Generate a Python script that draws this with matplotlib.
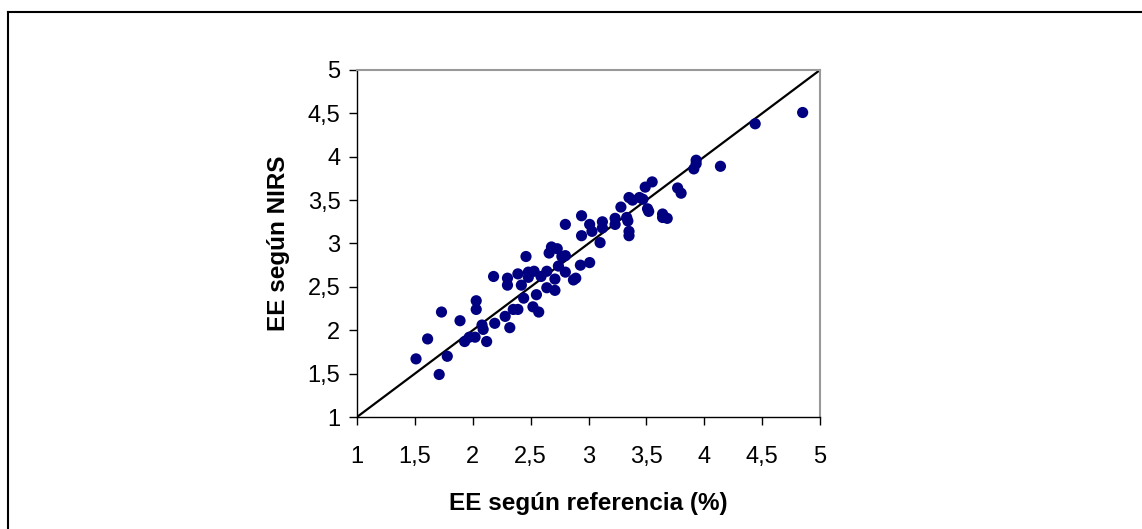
import matplotlib
matplotlib.use("Agg")
import matplotlib.pyplot as plt
from matplotlib.lines import Line2D

plt.rcParams['font.family'] = ['Liberation Sans', 'DejaVu Sans']

# EE segun referencia (%) vs EE segun NIRS
ref = [1.51, 1.61, 1.73, 1.71, 1.78, 1.89, 1.93, 1.97, 2.02, 2.03, 2.03, 2.08,
       2.09, 2.12, 2.18, 2.19, 2.28, 2.30, 2.30, 2.32, 2.35, 2.39, 2.39, 2.42,
       2.44, 2.46, 2.48, 2.48, 2.53, 2.52, 2.55, 2.57, 2.59, 2.64, 2.64, 2.66,
       2.68, 2.71, 2.71, 2.73, 2.74, 2.77, 2.80, 2.80, 2.80, 2.87, 2.89, 2.93,
       2.94, 2.94, 3.01, 3.01, 3.03, 3.10, 3.12, 3.12, 3.23, 3.23, 3.28, 3.33,
       3.34, 3.35, 3.35, 3.35, 3.38, 3.44, 3.47, 3.49, 3.55, 3.51, 3.52, 3.64,
       3.64, 3.68, 3.77, 3.80, 3.91, 3.93, 3.93, 4.14, 4.44, 4.85]
nirs = [1.67, 1.90, 2.21, 1.49, 1.70, 2.11, 1.87, 1.92, 1.92, 2.34, 2.24, 2.06,
        2.01, 1.87, 2.62, 2.08, 2.16, 2.60, 2.52, 2.03, 2.24, 2.24, 2.65, 2.52,
        2.37, 2.85, 2.67, 2.61, 2.68, 2.27, 2.41, 2.21, 2.62, 2.68, 2.49, 2.89,
        2.96, 2.59, 2.46, 2.94, 2.74, 2.85, 2.86, 2.67, 3.22, 2.58, 2.60, 2.75,
        3.32, 3.09, 2.78, 3.22, 3.14, 3.01, 3.25, 3.18, 3.29, 3.22, 3.42, 3.30,
        3.26, 3.14, 3.09, 3.53, 3.50, 3.53, 3.51, 3.65, 3.71, 3.40, 3.37, 3.34,
        3.30, 3.29, 3.64, 3.58, 3.86, 3.96, 3.92, 3.89, 4.38, 4.51]
ticks = [1, 1.5, 2, 2.5, 3, 3.5, 4, 4.5, 5]
tick_labels = ['1', '1,5', '2', '2,5', '3', '3,5', '4', '4,5', '5']

fig = plt.figure(figsize=(11.42, 5.29), dpi=100)
ax = fig.add_axes([357 / 1142, 1 - 417 / 529, 463 / 1142, 347 / 529])

ax.plot([1, 5], [1, 5], color='black', lw=1.6, zorder=2)
ax.scatter(ref, nirs, s=65, color='#000080', edgecolors='none', zorder=3)

ax.set_xlim(1, 5)
ax.set_ylim(1, 5)
ax.set_xticks(ticks)
ax.set_xticklabels(tick_labels)
ax.set_yticks(ticks)
ax.set_yticklabels(tick_labels)
ax.tick_params(direction='out', length=6, width=1, labelsize=17, pad=15)
ax.tick_params(axis='y', pad=6)

for s in ['top', 'right']:
    ax.spines[s].set_color('#999999')
    ax.spines[s].set_linewidth(1.5)
for s in ['left', 'bottom']:
    ax.spines[s].set_color('black')
    ax.spines[s].set_linewidth(1)

ax.set_xlabel('EE según referencia (%)', fontsize=17.5, fontweight='bold', labelpad=17)
ax.set_ylabel('EE según NIRS', fontsize=17.5, fontweight='bold', labelpad=13)

# outer chart border (top and left only visible)
fig.add_artist(Line2D([8 / 1142, 8 / 1142], [0, 1 - 12 / 529], color='black', lw=1.5,
                      transform=fig.transFigure))
fig.add_artist(Line2D([8 / 1142, 1], [1 - 12 / 529, 1 - 12 / 529], color='black', lw=1.5,
                      transform=fig.transFigure))

fig.savefig('out.png', dpi=100)
